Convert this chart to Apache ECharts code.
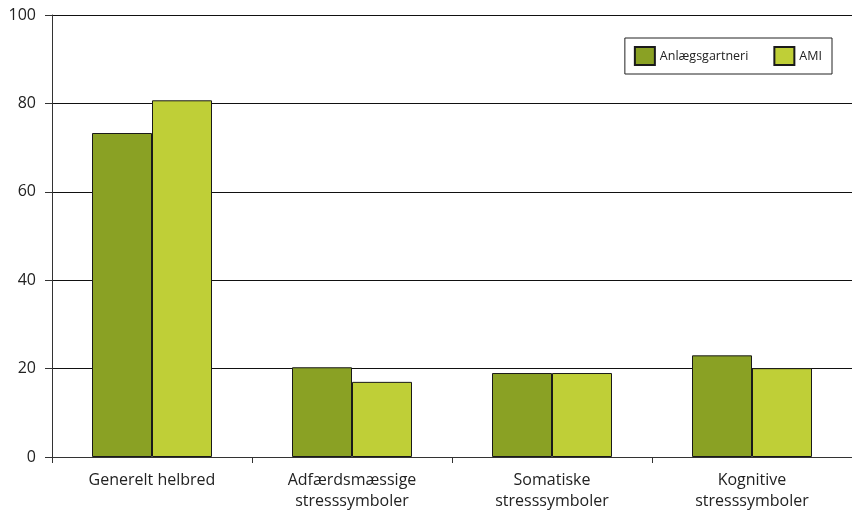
<!DOCTYPE html>
<html><head><meta charset="utf-8">
<script src="https://cdn.jsdelivr.net/npm/echarts@6/dist/echarts.min.js"></script>
<style>html,body{margin:0;padding:0;background:#fff}#c{width:852px;height:512px}</style>
</head><body><div id="c"></div>
<script>
const categories = ['Generelt helbred', 'Adfærdsmæssige\nstresssymboler', 'Somatiske\nstresssymboler', 'Kognitive\nstresssymboler'];
const anlaeg = [73.3, 20.3, 19.0, 23.0];
const ami = [80.7, 17.0, 19.0, 20.1];
const seriesNames = ['Anlægsgartneri', 'AMI'];
const yTicks = [0, 20, 40, 60, 80, 100];

const font = 'Open Sans';
const chart = echarts.init(document.getElementById('c'), null, {renderer: 'canvas'});
chart.setOption({
  animation: false,
  textStyle: {fontFamily: font},
  grid: {left: 52, right: -2, top: 15, bottom: 54},
  legend: {
    right: 20, top: 38, orient: 'horizontal',
    data: seriesNames,
    itemWidth: 20, itemHeight: 18, itemGap: 25,
    borderColor: '#222', borderWidth: 1, padding: [8, 10, 8, 9],
    textStyle: {fontFamily: font, fontSize: 12.5, color: '#222'},
    icon: 'rect'
  },
  xAxis: {
    type: 'category', data: categories,
    axisLine: {lineStyle: {color: '#333', width: 1}},
    axisTick: {show: true, alignWithLabel: false, length: 6, lineStyle: {color: '#333'}},
    axisLabel: {fontFamily: font, fontSize: 16, color: '#222', margin: 13, lineHeight: 21, interval: 0}
  },
  yAxis: {
    type: 'value', min: yTicks[0], max: yTicks[yTicks.length - 1], interval: 20,
    axisLine: {show: true, lineStyle: {color: '#333', width: 1}},
    axisTick: {show: true, length: 7, lineStyle: {color: '#333'}},
    axisLabel: {fontFamily: font, fontSize: 16, color: '#222', margin: 16},
    splitLine: {show: true, lineStyle: {color: '#111', width: 1}}
  },
  series: [
    {name: seriesNames[0], type: 'bar', data: anlaeg, barGap: '0%', barCategoryGap: '40%',
     itemStyle: {color: '#8aa124', borderColor: '#1a1a1a', borderWidth: 1}},
    {name: seriesNames[1], type: 'bar', data: ami,
     itemStyle: {color: '#bfcf37', borderColor: '#1a1a1a', borderWidth: 1}}
  ]
});
</script></body></html>
